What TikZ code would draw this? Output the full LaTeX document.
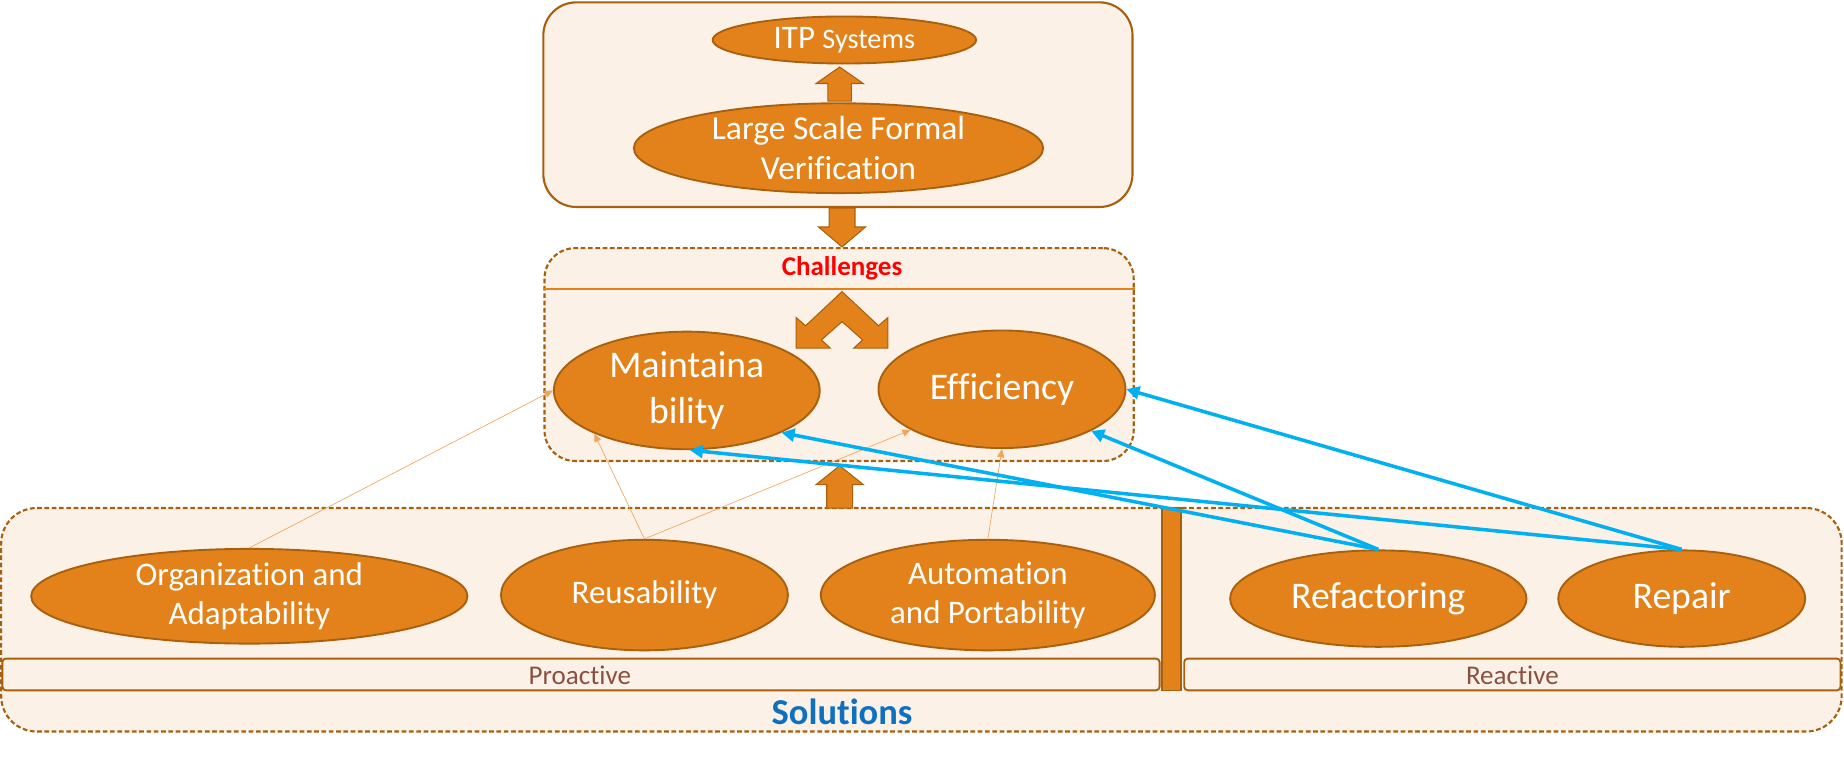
\documentclass[tikz,border=0pt]{standalone}
\usepackage{fontspec}
\setmainfont{Carlito}[Ligatures=NoCommon]
\usetikzlibrary{shapes.geometric,arrows.meta}
\definecolor{org}{HTML}{E3821A}
\definecolor{brd}{HTML}{A8600E}
\definecolor{lite}{HTML}{FBF1E7}
\definecolor{lblue}{HTML}{00B0F0}
\definecolor{solblue}{HTML}{0F70C0}
\definecolor{thinorg}{HTML}{F2A55A}
\definecolor{tbrown}{HTML}{8A5040}
\begin{document}
\begin{tikzpicture}[x=1pt,y=-1pt,
  ell/.style={ellipse, fill=org, draw=brd, line width=1.6pt, text=white, align=center, inner sep=0pt},
  solidbox/.style={rectangle, rounded corners=28pt, fill=lite, draw=brd, line width=1.8pt},
  dashbox/.style={rectangle, rounded corners=26pt, fill=lite, draw=brd, line width=1.8pt, dash pattern=on 4pt off 2.2pt},
  barbox/.style={rectangle, rounded corners=3pt, fill=lite, draw=brd, line width=1.6pt},
  bartext/.style={text=tbrown, font=\fontsize{23}{26}\selectfont},
  blk/.style={fill=org, draw=brd, line width=0.9pt, line join=miter},
  thinarr/.style={draw=thinorg, line width=0.5pt, -{Triangle[width=6pt,length=7pt]}, fill=thinorg},
  bluearr/.style={draw=lblue, line width=3pt, -{Triangle[width=11pt,length=11pt]}, fill=lblue}
]
\useasboundingbox (0,0) rectangle (1568,643);

% boxes
\node[solidbox, minimum width=501pt, minimum height=174pt] (topbox) at (712.5,89) {};
\node[dashbox, minimum width=501pt, minimum height=181pt] (chbox) at (713.5,301.5) {};
\draw[org, line width=1.6pt] (chbox.west |- 0,246) coordinate (hl) -- (chbox.east |- 0,246) coordinate (hr);
\node[text=red, font=\bfseries\fontsize{23}{26}\selectfont] (chlabel) at (716,228) {Challenges};

\node[dashbox, minimum width=1565pt, minimum height=190pt, rounded corners=30pt] (solbox) at (783.5,527) {};
\node[barbox, minimum width=984pt, minimum height=27pt] (pro) at (494,573.5) {};
\node[bartext] (prolabel) at (493,574) {Proactive};
\node[barbox, minimum width=558pt, minimum height=27pt] (rea) at (1286,573.5) {};
\node[bartext] (realabel) at (1286,574) {Reactive};
\node[rectangle, fill=org, draw=brd, line width=1.4pt, minimum width=16pt, minimum height=155pt, inner sep=0pt] (vbar) at (996,509.5) {};
\node[text=solblue, font=\bfseries\fontsize{31}{34}\selectfont] (sollabel) at (716,605) {Solutions};

% top ellipses
\node[ell, minimum width=224pt, minimum height=40pt, font=\fontsize{28}{30}\selectfont] (itp) at (718,34)
  {ITP\ {\fontsize{24}{26}\selectfont Systems}};
\node[ell, minimum width=348pt, minimum height=72pt, font=\fontsize{28.5}{34}\selectfont] (lsfv) at (713,126)
  {Large Scale Formal\\Verification};

% block arrows
\draw[blk] (704,86) -- (704,71) -- (694,71) -- (714,57) -- (734,71) -- (724,71) -- (724,86) -- cycle;
\draw[blk] (705,177) -- (705,193) -- (696,193) -- (716,210) -- (736,193) -- (727,193) -- (727,177) -- cycle;
\draw[blk] (703,432) -- (703,412) -- (694,412) -- (714,396) -- (734,412) -- (725,412) -- (725,432) -- cycle;
\coordinate (apex) at (716,248);
\draw[blk] (apex) -- ++(-31,29) -- ++(-8,-7) -- ++(0,26) -- ++(29,0) -- ++(-7.5,-7) -- ++(17.5,-15.5)
  -- ++(17.5,15.5) -- ++(-7.5,7) -- ++(29,0) -- ++(0,-26) -- ++(-8,7) -- cycle;

% challenge ellipses
\node[ell, minimum width=226pt, minimum height=100pt, font=\fontsize{32}{39}\selectfont] (maint) at (584,332)
  {Maintaina\\bility};
\node[ell, minimum width=210pt, minimum height=100pt, font=\fontsize{32}{38}\selectfont] (eff) at (852,331)
  {Efficiency};

% solution ellipses
\node[ell, minimum width=371pt, minimum height=76pt, font=\fontsize{28}{33}\selectfont] (orgad) at (212,507)
  {Organization and\\Adaptability};
\node[ell, minimum width=244pt, minimum height=94pt, font=\fontsize{28}{32}\selectfont] (reu) at (548,506)
  {Reusability};
\node[ell, minimum width=284pt, minimum height=94pt, font=\fontsize{28}{33}\selectfont] (auto) at (840,506)
  {Automation\\and Portability};
\node[ell, minimum width=252pt, minimum height=82pt, font=\fontsize{32}{36}\selectfont] (refac) at (1172,509)
  {Refactoring};
\node[ell, minimum width=210pt, minimum height=82pt, font=\fontsize{32}{36}\selectfont] (rep) at (1430,509)
  {Repair};

% thin orange arrows
\draw[thinarr] (orgad.north) -- (maint.west);
\draw[thinarr] (reu.north) -- (maint.205);
\draw[thinarr] (reu.north) -- (eff.204);
\draw[thinarr] (auto.north) -- (eff.south);

% blue arrows
\draw[bluearr] (refac.north) -- (maint.-24);
\draw[bluearr] (rep.north) -- (maint.-87);
\draw[bluearr] (refac.north) -- (eff.-25);
\draw[bluearr] (rep.north) -- (eff.east);
\end{tikzpicture}
\end{document}
